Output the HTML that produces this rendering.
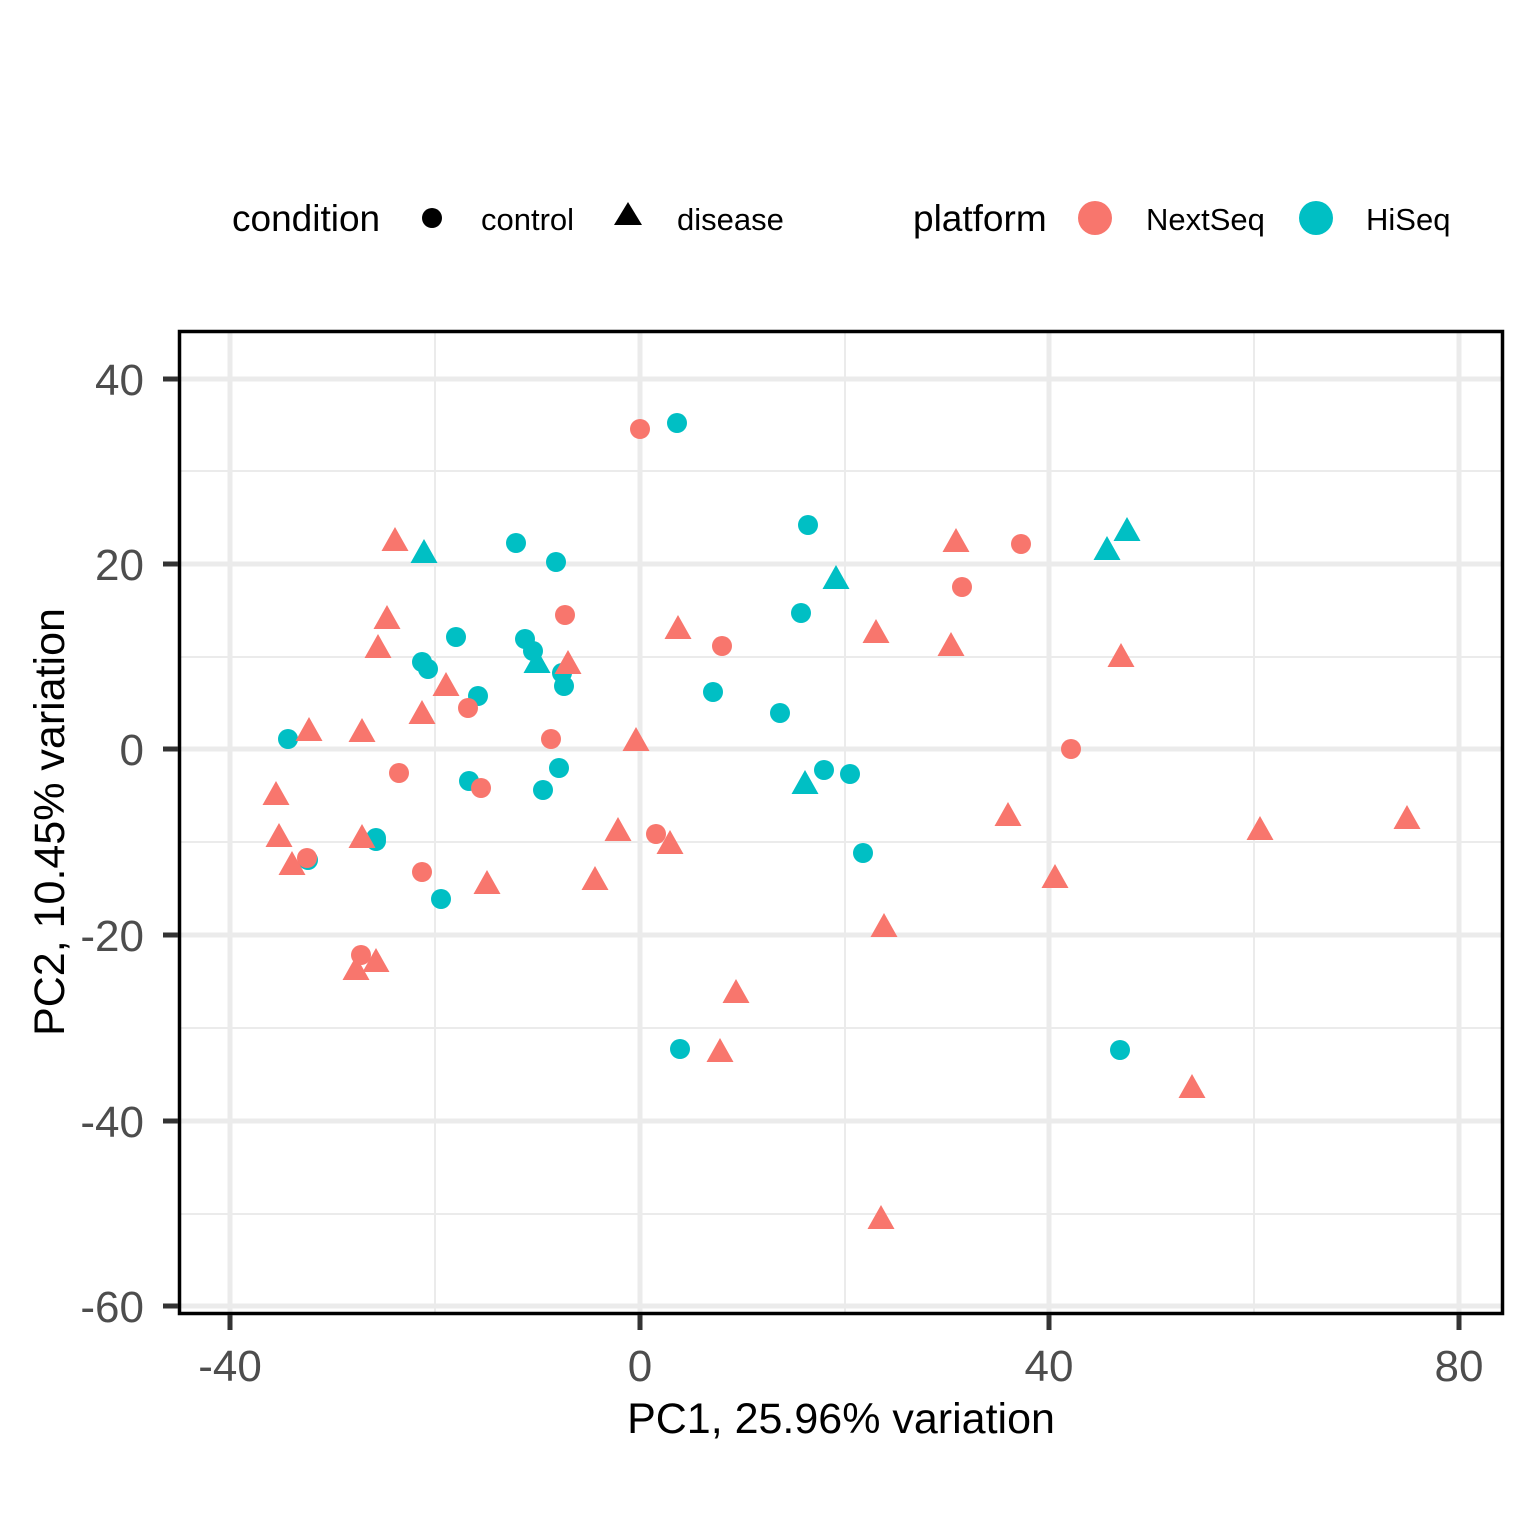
<!DOCTYPE html>
<html><head><meta charset="utf-8"><style>
html,body{margin:0;padding:0;background:#fff;}
svg{display:block;font-family:"Liberation Sans",Arial,sans-serif;}
</style></head><body>
<svg id="s" width="1536" height="1536" viewBox="0 0 1536 1536" xmlns="http://www.w3.org/2000/svg">
<rect width="1536" height="1536" fill="#fff"/>
<g stroke="#ebebeb" stroke-width="2">
<line x1="435" y1="331" x2="435" y2="1313"/><line x1="845" y1="331" x2="845" y2="1313"/><line x1="1254" y1="331" x2="1254" y2="1313"/>
<line x1="179" y1="471" x2="1503" y2="471"/><line x1="179" y1="657" x2="1503" y2="657"/><line x1="179" y1="842" x2="1503" y2="842"/><line x1="179" y1="1028" x2="1503" y2="1028"/><line x1="179" y1="1214" x2="1503" y2="1214"/>
</g>
<g stroke="#ebebeb" stroke-width="5">
<line x1="230" y1="331" x2="230" y2="1313"/><line x1="640" y1="331" x2="640" y2="1313"/><line x1="1049" y1="331" x2="1049" y2="1313"/><line x1="1459" y1="331" x2="1459" y2="1313"/>
<line x1="179" y1="379" x2="1503" y2="379"/><line x1="179" y1="564" x2="1503" y2="564"/><line x1="179" y1="749" x2="1503" y2="749"/><line x1="179" y1="935" x2="1503" y2="935"/><line x1="179" y1="1121" x2="1503" y2="1121"/><line x1="179" y1="1306" x2="1503" y2="1306"/>
</g>
<g id="pts"></g>
<rect x="179.5" y="331.5" width="1323" height="982" fill="none" stroke="#000" stroke-width="3.5"/>
<g stroke="#333" stroke-width="5">
<line x1="163" y1="379" x2="178" y2="379"/><line x1="163" y1="564" x2="178" y2="564"/><line x1="163" y1="749" x2="178" y2="749"/><line x1="163" y1="935" x2="178" y2="935"/><line x1="163" y1="1121" x2="178" y2="1121"/><line x1="163" y1="1306" x2="178" y2="1306"/>
<line x1="230" y1="1315" x2="230" y2="1330"/><line x1="640" y1="1315" x2="640" y2="1330"/><line x1="1049" y1="1315" x2="1049" y2="1330"/><line x1="1459" y1="1315" x2="1459" y2="1330"/>
</g>
<g fill="#4d4d4d" font-size="44" text-anchor="end">
<text x="144" y="395">40</text><text x="144" y="580">20</text><text x="144" y="765">0</text><text x="144" y="951">-20</text><text x="144" y="1137">-40</text><text x="144" y="1322">-60</text>
</g>
<g fill="#4d4d4d" font-size="44" text-anchor="middle">
<text x="230" y="1381">-40</text><text x="640" y="1381">0</text><text x="1049" y="1381">40</text><text x="1459" y="1381">80</text>
</g>
<text x="841" y="1433" font-size="43" text-anchor="middle" fill="#000">PC1, 25.96% variation</text>
<text transform="translate(64,822) rotate(-90)" font-size="43" text-anchor="middle" fill="#000">PC2, 10.45% variation</text>
<text x="232" y="231" font-size="37" fill="#000">condition</text>
<circle cx="432" cy="218" r="10" fill="#000"/>
<text x="481" y="230" font-size="31" fill="#000">control</text>
<polygon points="628,202 642,225 614,225" fill="#000"/>
<text x="677" y="230" font-size="31" fill="#000">disease</text>
<text x="913" y="231" font-size="37" fill="#000">platform</text>
<circle cx="1095" cy="218" r="17" fill="#F8766D"/>
<text x="1146" y="230" font-size="31" fill="#000">NextSeq</text>
<circle cx="1316" cy="218" r="17" fill="#00BFC4"/>
<text x="1366" y="230" font-size="31" fill="#000">HiSeq</text>
</svg>
<script>
var R="#F8766D",C="#00BFC4",ns="http://www.w3.org/2000/svg",g=document.getElementById("pts");
function c(x,y,f){var e=document.createElementNS(ns,"circle");e.setAttribute("cx",x);e.setAttribute("cy",y);e.setAttribute("r",10);e.setAttribute("fill",f);g.appendChild(e);}
function t(x,y,f){var e=document.createElementNS(ns,"polygon");e.setAttribute("points",(x)+","+(y-14)+" "+(x+13.5)+","+(y+10)+" "+(x-13.5)+","+(y+10));e.setAttribute("fill",f);g.appendChild(e);}
var rc=[[640,429],[1021,544],[962,587],[565,615],[722,646],[468,708],[551,739],[1071,749],[399,773],[481,788],[656,834],[422,872],[361,955],[307,858]];
var rt=[[395,541],[956,542],[387,619],[678,629],[876,633],[378,648],[951,646],[568,664],[1121,657],[446,686],[422,714],[309,731],[362,732],[636,741],[276,795],[1008,816],[1407,819],[618,831],[279,837],[362,838],[1260,830],[670,844],[292,865],[487,884],[595,880],[1055,878],[884,927],[376,962],[356,970],[736,993],[720,1052],[1192,1088],[881,1219]];
var cc=[[677,423],[808,525],[516,543],[556,562],[801,613],[456,637],[525,639],[533,651],[422,662],[428,669],[562,673],[564,686],[478,696],[713,692],[780,713],[288,739],[559,768],[824,770],[850,774],[469,781],[543,790],[376,838],[376,841],[308,860],[863,853],[441,899],[680,1049],[1120,1050]];
var ct=[[424,553],[836,579],[1107,550],[1127,531],[537,663],[805,784]];
cc.forEach(function(p){c(p[0],p[1],C)});
ct.forEach(function(p){t(p[0],p[1],C)});
rc.forEach(function(p){c(p[0],p[1],R)});
rt.forEach(function(p){t(p[0],p[1],R)});
</script>
</body></html>
